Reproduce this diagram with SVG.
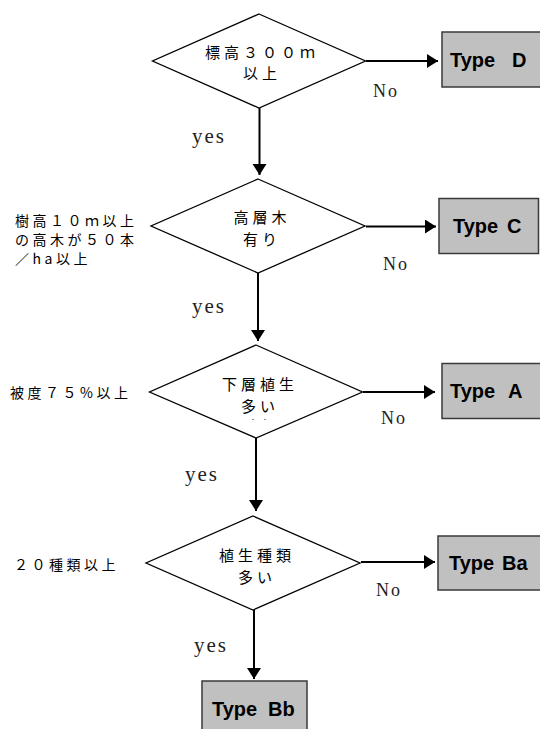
<svg xmlns="http://www.w3.org/2000/svg" width="540" height="729" viewBox="0 0 540 729">
<style>
.dia{fill:#fff;stroke:#000;stroke-width:1.3}
.box{fill:#c0c0c0;stroke:#3a3a3a;stroke-width:1.5}
.conn{stroke:#000;stroke-width:2;fill:none}
.jp{font-family:"Noto Sans CJK JP","Noto Sans CJK SC",sans-serif;font-size:15px;fill:#000;letter-spacing:4px}
.side{font-family:"Noto Sans CJK JP","Noto Sans CJK SC",sans-serif;font-size:14px;fill:#000;letter-spacing:3.5px}
.typ{font-family:"Liberation Sans",Arial,sans-serif;font-size:20px;font-weight:bold;fill:#000}
.lbl{font-family:"Liberation Serif","Times New Roman",serif;fill:#222}
.no{font-size:18px;letter-spacing:2px}
.yes{font-size:21px;letter-spacing:2px}
</style>
<defs>
<marker id="ah" markerUnits="userSpaceOnUse" markerWidth="12" markerHeight="16" refX="11" refY="7" orient="auto">
<path d="M0,0 L11,7 L0,14 z" fill="#000"/>
</marker>
</defs>

<g id="connectors">
<line class="conn" x1="259.5" y1="108" x2="259.5" y2="175" marker-end="url(#ah)"/>
<line class="conn" x1="258" y1="273" x2="258" y2="341" marker-end="url(#ah)"/>
<line class="conn" x1="256" y1="438" x2="256" y2="511" marker-end="url(#ah)"/>
<line class="conn" x1="254" y1="610" x2="254" y2="679" marker-end="url(#ah)"/>
<line class="conn" x1="366" y1="61" x2="438" y2="61" marker-end="url(#ah)"/>
<line class="conn" x1="366" y1="226.5" x2="436" y2="226.5" marker-end="url(#ah)"/>
<line class="conn" x1="363" y1="392" x2="435" y2="392" marker-end="url(#ah)"/>
<line class="conn" x1="361" y1="562" x2="435" y2="562" marker-end="url(#ah)"/>
<text class="lbl no" x="373" y="97">No</text>
<text class="lbl no" x="383" y="270">No</text>
<text class="lbl no" x="381" y="424">No</text>
<text class="lbl no" x="376" y="596">No</text>
<text class="lbl yes" x="192" y="143">yes</text>
<text class="lbl yes" x="192" y="313">yes</text>
<text class="lbl yes" x="185" y="481">yes</text>
<text class="lbl yes" x="194" y="652">yes</text>
</g>

<g id="d1">
<polygon class="dia" points="259,14 365.5,61 259,108 152.5,61"/>
<text class="jp" text-anchor="middle"><tspan x="262" y="57.5">標高３００ｍ</tspan><tspan x="262" y="79">以上</tspan></text>
</g>

<g id="d2">
<polygon class="dia" points="258,179 365,226 258,273 151,226"/>
<text class="jp" text-anchor="middle"><tspan x="262" y="223">高層木</tspan><tspan x="262" y="244.5">有り</tspan></text>
<text class="side"><tspan x="15" y="226">樹高１０ｍ以上</tspan><tspan x="15" y="245">の高木が５０本</tspan><tspan x="15" y="264">／ha以上</tspan></text>
</g>

<g id="d3">
<polygon class="dia" points="256,345 362.5,392 256,438 149.5,392"/>
<text class="jp" text-anchor="middle"><tspan x="260" y="390">下層植生</tspan><tspan x="260" y="411.5">多い</tspan></text>
<rect x="252" y="419" width="2" height="1" fill="#888"/>
<rect x="264" y="419" width="2" height="1" fill="#888"/>
<text class="side" x="10" y="398">被度７５%以上</text>
</g>

<g id="d4">
<polygon class="dia" points="253,516 360,563 253,610 146,563"/>
<text class="jp" text-anchor="middle"><tspan x="257" y="561">植生種類</tspan><tspan x="257" y="582.5">多い</tspan></text>
<text class="side" x="14" y="570">２０種類以上</text>
</g>

<g id="typeD">
<rect class="box" x="442" y="32" width="100" height="55"/>
<text class="typ" y="67"><tspan x="450">Type</tspan><tspan x="512">D</tspan></text>
</g>
<g id="typeC">
<rect class="box" x="439" y="198.5" width="99.5" height="55"/>
<text class="typ" y="233"><tspan x="453">Type</tspan><tspan x="507">C</tspan></text>
</g>
<g id="typeA">
<rect class="box" x="442" y="363.5" width="100" height="55"/>
<text class="typ" y="398"><tspan x="450">Type</tspan><tspan x="508">A</tspan></text>
</g>
<g id="typeBa">
<rect class="box" x="438" y="536" width="104" height="54"/>
<text class="typ" y="570"><tspan x="449">Type</tspan><tspan x="502">Ba</tspan></text>
</g>
<g id="typeBb">
<rect class="box" x="202" y="681" width="105" height="60"/>
<text class="typ" y="716"><tspan x="212">Type</tspan><tspan x="268">Bb</tspan></text>
</g>
</svg>
